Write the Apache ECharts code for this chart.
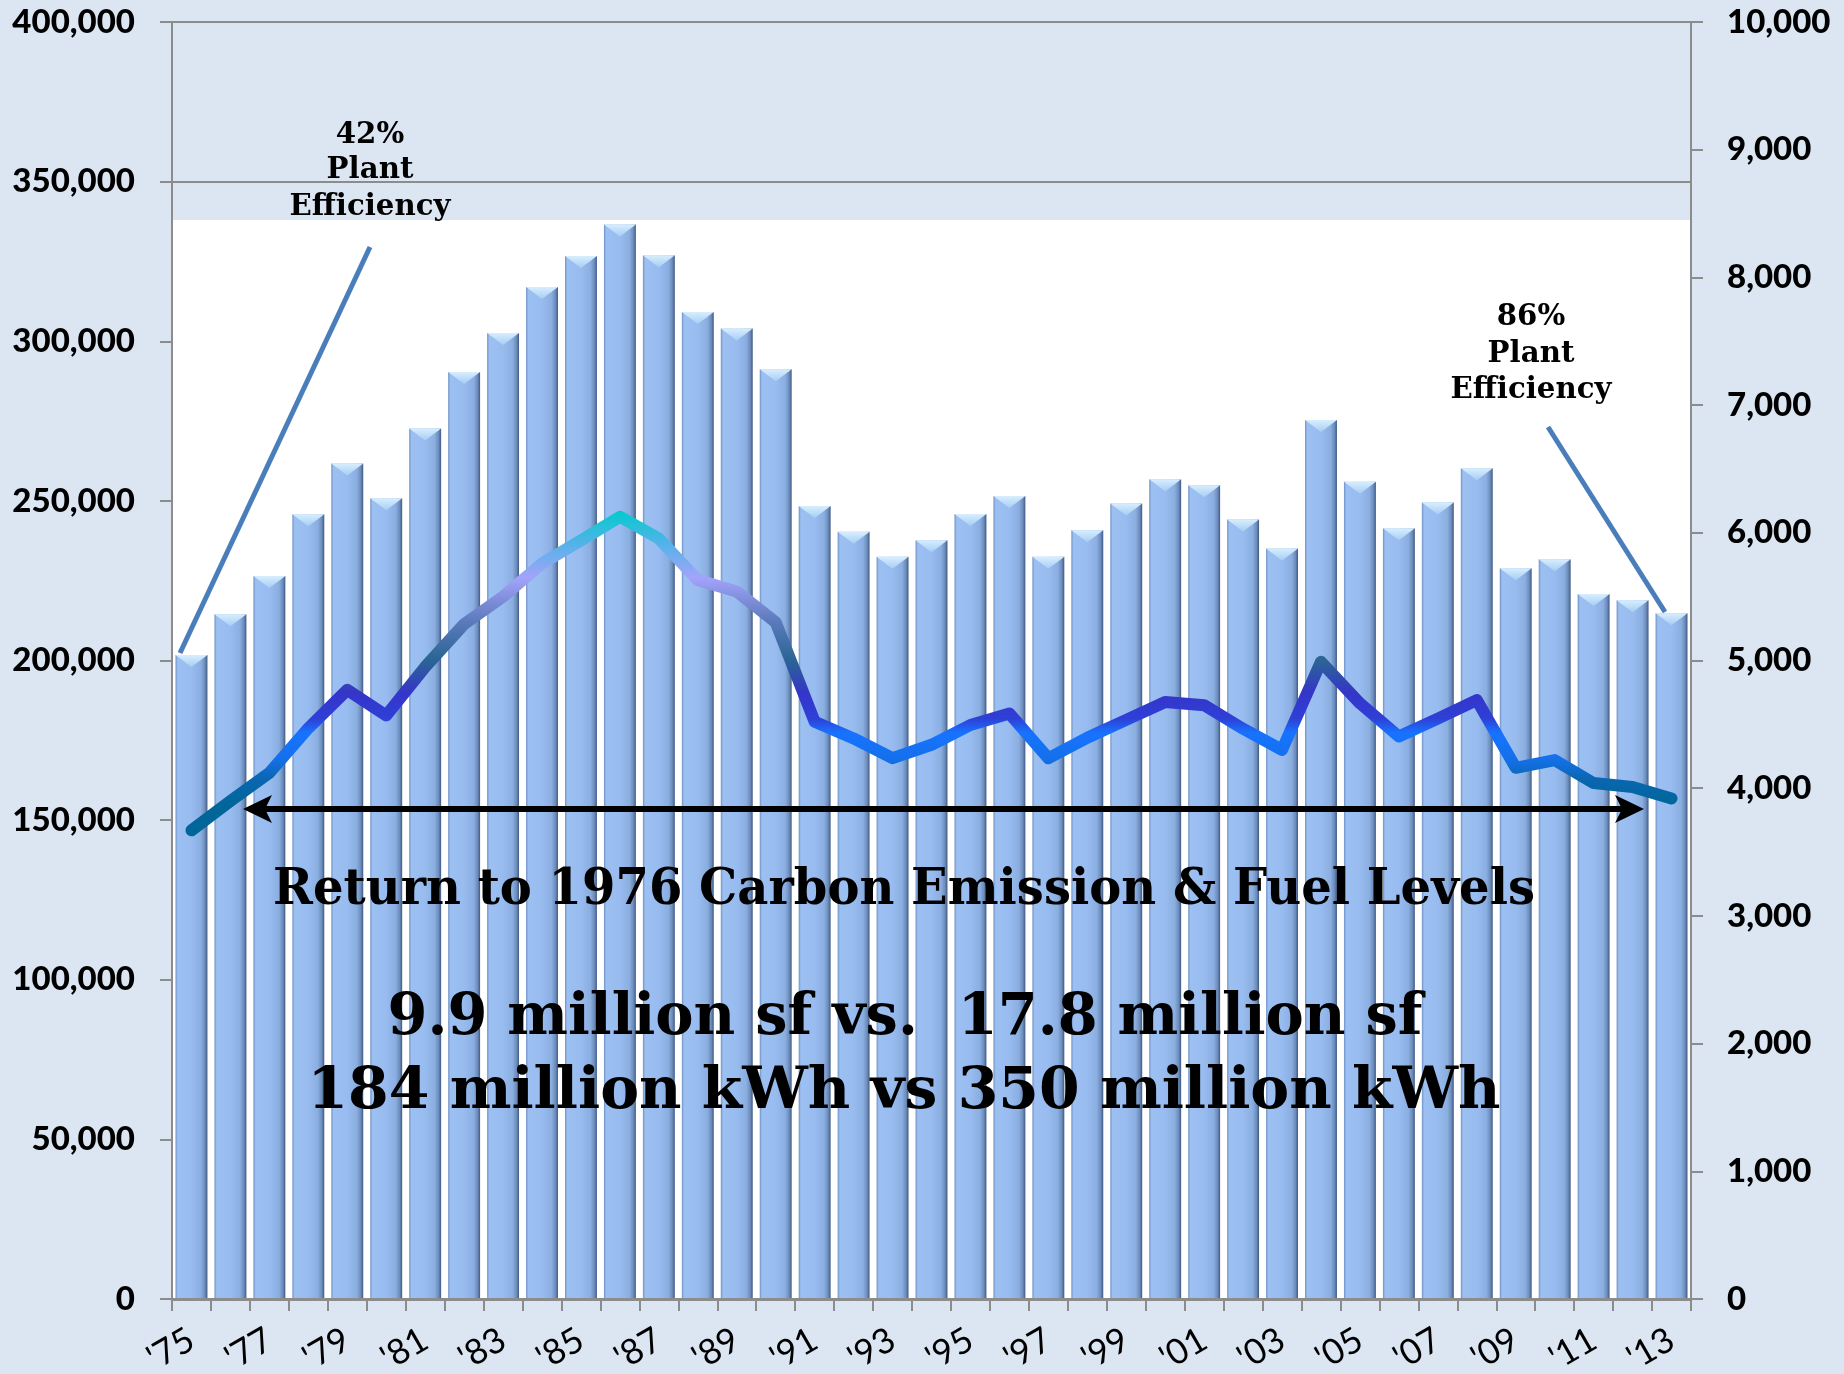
<!DOCTYPE html>
<html>
<head>
<meta charset="utf-8">
<script src="https://cdn.jsdelivr.net/npm/echarts@6/dist/echarts.min.js"></script>
<style>
  html, body { margin: 0; padding: 0; background: #dce6f2; }
  #main { width: 1844px; height: 1374px; }
</style>
</head>
<body>
<div id="main"></div>
<script>
  // categories ('75 .. '13)
  const years = ["'75", "'76", "'77", "'78", "'79", "'80", "'81", "'82", "'83", "'84",
    "'85", "'86", "'87", "'88", "'89", "'90", "'91", "'92", "'93", "'94",
    "'95", "'96", "'97", "'98", "'99", "'00", "'01", "'02", "'03", "'04",
    "'05", "'06", "'07", "'08", "'09", "'10", "'11", "'12", "'13"];

  // bars, left axis
  const barValues = [201700, 214500, 226500, 245800, 261700, 250800, 272700, 290400, 302600, 317000,
    326700, 336600, 326900, 309200, 304000, 291200, 248400, 240300, 232500, 237700,
    245900, 251500, 232500, 240800, 249200, 256800, 254900, 244200, 235100, 275300,
    256000, 241400, 249500, 260200, 228900, 231700, 220800, 218900, 214800];

  // line, right axis
  const lineValues = [3670, 3900, 4120, 4470, 4770, 4570, 4950, 5285, 5500, 5760,
    5940, 6125, 5955, 5630, 5540, 5300, 4520, 4390, 4235, 4340,
    4495, 4585, 4235, 4395, 4535, 4675, 4650, 4465, 4300, 4990,
    4665, 4405, 4545, 4690, 4160, 4220, 4040, 4010, 3920];

  // axis ticks
  const leftTicks = [0, 50000, 100000, 150000, 200000, 250000, 300000, 350000, 400000];
  const rightTicks = [0, 1000, 2000, 3000, 4000, 5000, 6000, 7000, 8000, 9000, 10000];
  const gridLineValues = [350000, 400000];
  const whiteTop = 338000;

  // line colour by value (vertical gradient)
  const lineColorStops = [
    [6125, '#00cccc'], [5900, '#4cb4e6'], [5620, '#a3a3fa'], [5300, '#5d7bbd'],
    [5000, '#2a6594'], [4750, '#3535c9'], [4560, '#2f3fd6'], [4450, '#1773ff'],
    [4250, '#1470e8'], [4100, '#0a66b0'], [3900, '#006699'], [3670, '#006699']
  ];

  const serif = '"DejaVu Serif", "Liberation Serif", serif';
  const measureCtx = document.createElement('canvas').getContext('2d');
  function fitScale(text, font, targetWidth) {
    measureCtx.font = font;
    return targetWidth / measureCtx.measureText(text).width;
  }
  function textEl(text, x, baseline, size, scaleX) {
    return {
      type: 'text', x: x, y: baseline - size * 0.34, scaleX: scaleX, z: 20,
      style: {
        text: text, font: 'bold ' + size + 'px ' + serif, fill: '#000',
        align: 'center', verticalAlign: 'middle'
      }
    };
  }

  const vMax = Math.max(...lineValues), vMin = Math.min(...lineValues);
  const lineGradient = new echarts.graphic.LinearGradient(0, 0, 0, 1,
    lineColorStops.map(function (s) {
      return { offset: Math.min(1, Math.max(0, (vMax - s[0]) / (vMax - vMin))), color: s[1] };
    }));

  const smallFont = 'bold 30px ' + serif;
  const smallScale = fitScale('Efficiency', smallFont, 161);
  const s1 = fitScale('Return to 1976 Carbon Emission & Fuel Levels', 'bold 50px ' + serif, 1262);
  const s2 = fitScale('9.9 million sf vs.  17.8 million sf', 'bold 58px ' + serif, 1035);
  const s3 = fitScale('184 million kWh vs 350 million kWh', 'bold 58px ' + serif, 1193);

  const axisGray = '#8c8c8c';
  const myChart = echarts.init(document.getElementById('main'));
  myChart.setOption({
    backgroundColor: '#dce6f2',
    animation: false,
    grid: { left: 172, right: 153, top: 22, bottom: 75, containLabel: false, outerBoundsMode: 'none' },
    xAxis: {
      type: 'category',
      data: years,
      z: 3,
      axisLine: { lineStyle: { color: axisGray, width: 3 } },
      axisTick: { show: true, interval: 0, length: 12, lineStyle: { color: axisGray, width: 2 } },
      axisLabel: {
        interval: 1, rotate: 30, margin: 38,
        fontFamily: 'Lato', fontSize: 35, color: '#000'
      }
    },
    yAxis: [{
      type: 'value', min: leftTicks[0], max: leftTicks[leftTicks.length - 1], interval: leftTicks[1] - leftTicks[0],
      z: 3,
      axisLine: { show: true, lineStyle: { color: axisGray, width: 2 } },
      axisTick: { show: true, length: 12, lineStyle: { color: axisGray, width: 2 } },
      splitLine: { show: false },
      axisLabel: {
        margin: 37, fontFamily: 'Lato', fontWeight: 900, fontSize: 33, color: '#000',
        formatter: v => v.toLocaleString('en-US')
      }
    }, {
      type: 'value', position: 'right', min: rightTicks[0], max: rightTicks[rightTicks.length - 1], interval: rightTicks[1] - rightTicks[0],
      z: 3,
      axisLine: { show: true, lineStyle: { color: axisGray, width: 2 } },
      axisTick: { show: true, length: 12, lineStyle: { color: axisGray, width: 2 } },
      splitLine: { show: false },
      axisLabel: {
        margin: 36, fontFamily: 'Lato', fontWeight: 900, fontSize: 33, color: '#000',
        formatter: v => v.toLocaleString('en-US')
      }
    }],
    series: [{
      type: 'bar',
      data: barValues,
      barCategoryGap: '18%',
      itemStyle: {
        color: new echarts.graphic.LinearGradient(0, 0, 1, 0, [
          { offset: 0, color: '#6f92c4' }, { offset: 0.07, color: '#9cc0f2' },
          { offset: 0.5, color: '#98bcef' }, { offset: 0.8, color: '#8aaee0' },
          { offset: 0.92, color: '#6c8cbc' }, { offset: 1, color: '#3f5a82' }
        ])
      },
      markArea: {
        silent: true,
        itemStyle: { color: '#ffffff', opacity: 1 },
        data: [[{ yAxis: 0 }, { yAxis: whiteTop }]]
      },
      markLine: {
        silent: true, symbol: 'none',
        label: { show: false },
        lineStyle: { color: axisGray, width: 2, type: 'solid' },
        data: gridLineValues.map(v => ({ yAxis: v }))
      }
    }, {
      type: 'pictorialBar',
      data: barValues,
      z: 3,
      symbol: 'path://M0,0 L20,0 L10,7 Z',
      symbolSize: [32, 12],
      symbolPosition: 'end',
      itemStyle: {
        color: new echarts.graphic.LinearGradient(0, 0, 0, 1, [
          { offset: 0, color: '#d8eefe' }, { offset: 1, color: '#a6cdf4' }
        ])
      }
    }, {
      type: 'line',
      yAxisIndex: 1,
      data: lineValues,
      z: 4,
      symbol: 'none',
      lineStyle: { width: 12, color: lineGradient, cap: 'round', join: 'round' }
    }],
    graphic: [
      // pointer lines
      { type: 'line', z: 15, shape: { x1: 180, y1: 653, x2: 370, y2: 247 }, style: { stroke: '#4a7ebb', lineWidth: 5 } },
      { type: 'line', z: 15, shape: { x1: 1548, y1: 427, x2: 1665, y2: 612 }, style: { stroke: '#4a7ebb', lineWidth: 5 } },
      // double arrow
      { type: 'line', z: 15, shape: { x1: 262, y1: 809, x2: 1624, y2: 809 }, style: { stroke: '#000', lineWidth: 6 } },
      { type: 'polygon', z: 15, shape: { points: [[243, 809], [272, 795], [265, 809], [272, 823]] }, style: { fill: '#000' } },
      { type: 'polygon', z: 15, shape: { points: [[1644, 809], [1615, 795], [1622, 809], [1615, 823]] }, style: { fill: '#000' } },
      // annotations
      textEl('42%', 370, 145, 30, smallScale),
      textEl('Plant', 370, 180, 30, smallScale),
      textEl('Efficiency', 370, 217, 30, smallScale),
      textEl('86%', 1531, 327, 30, smallScale),
      textEl('Plant', 1531, 364, 30, smallScale),
      textEl('Efficiency', 1531, 400, 30, smallScale),
      textEl('Return to 1976 Carbon Emission & Fuel Levels', 904, 908, 50, s1),
      textEl('9.9 million sf vs.  17.8 million sf', 905, 1039, 58, s2),
      textEl('184 million kWh vs 350 million kWh', 904, 1113, 58, s3)
    ]
  });
</script>
</body>
</html>
